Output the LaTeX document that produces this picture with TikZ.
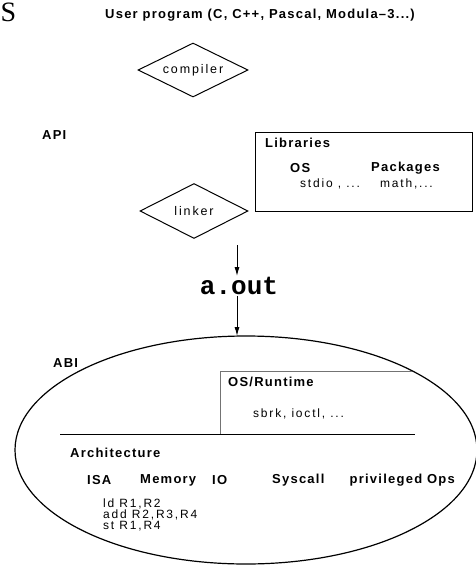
\documentclass[tikz,border=0pt]{standalone}
\usepackage{fontspec}
\setmainfont{Liberation Sans}
\newfontfamily\serifS{Liberation Serif}
\newfontfamily\codefont{Liberation Mono}
% widely tracked sans faces for the labels
\newfontfamily\headfont[LetterSpace=9.5]{Liberation Sans}
\newfontfamily\bodyfont[LetterSpace=15]{Liberation Sans}
\usetikzlibrary{shapes.geometric,arrows.meta}
\begin{document}
\begin{tikzpicture}[x=1pt,y=-1pt,
  lbl/.style={font=\headfont\bfseries\fontsize{13}{15}\selectfont, inner sep=0pt, anchor=west},
  txt/.style={font=\bodyfont\fontsize{12}{11}\selectfont, inner sep=0pt, anchor=west},
  tool/.style={diamond, draw, line width=1pt, minimum width=110pt, minimum height=54pt,
    aspect=2, inner sep=0pt, font=\bodyfont\fontsize{12.5}{14}\selectfont},
  flow/.style={-{Latex[length=9pt,width=5pt]}, line width=1pt},
  frame/.style={draw, line width=0.8pt},
  osline/.style={draw=black!55, line width=1pt}]
\useasboundingbox (0,0) rectangle (475,565);

% title letter at the corner
\node[font=\serifS\fontsize{28}{28}\selectfont, inner sep=0pt, anchor=west] (title) at (0.5,12) {S};

\node[lbl] (user) at (105,15) {User program (C, C++, Pascal, Modula\textendash 3...)};
\node[tool] (compiler) at (193,70) {compiler};
\node[lbl] (api) at (42,135) {API};

% libraries
\draw[frame] (255,132) rectangle (472,211);
\node[lbl] (libs) at (265,143) {Libraries};
\node[lbl] (os) at (290,168) {OS};
\node[lbl] (pkg) at (371,168) {Packages};
\node[txt] (stdio) at (300,184) {stdio , ...};
\node[txt] (math) at (380,184) {math,...};

\node[tool, minimum width=108pt, minimum height=55pt] (linker) at (194,211) {linker};

\coordinate (a1) at (237,245);
\node[font=\codefont\bfseries\fontsize{26}{26}\selectfont, inner sep=1pt] (aout) at (239,286) {a.out};
\draw[flow] (a1) -- (aout.north -| a1);
\coordinate (a2) at (237,336);
\draw[flow] (aout.south -| a2) -- (a2);

% ABI
\node[ellipse, draw, line width=1.2pt, minimum width=462pt, minimum height=228pt, inner sep=0pt] (abi) at (246,450) {};
\node[lbl] (abilbl) at (53,363) {ABI};

\draw[osline] (220,434) -- (220,371) -- (412,371);
\node[lbl] (rt) at (228,382) {OS/Runtime};
\node[txt] (sbrk) at (253,414) {sbrk, ioctl, ...};
\draw[line width=1pt] (60,434) -- (415,434);

\node[lbl] (arch) at (70,453) {Architecture};
\node[lbl] (isa) at (87,480) {ISA};
\node[lbl] (mem) at (140,480) {Memory};
\node[lbl] (io) at (212,480) {IO};
\node[lbl] (sys) at (272,480) {Syscall};
\node[lbl, anchor=east] (priv) at (455,480) {privileged Ops};

\node[txt, align=left] (code) at (103,515) {ld R1,R2\\add R2,R3,R4\\st R1,R4};
\end{tikzpicture}
\end{document}
